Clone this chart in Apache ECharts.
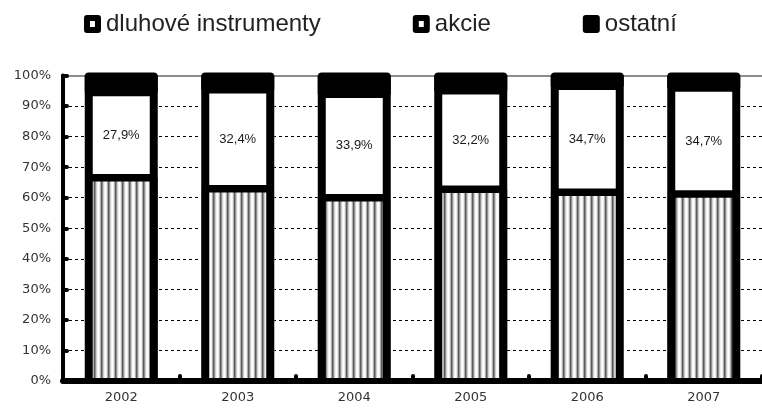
<!DOCTYPE html>
<html>
<head>
<meta charset="utf-8">
<script src="https://cdn.jsdelivr.net/npm/echarts@6/dist/echarts.min.js"></script>
<style>
  html, body { margin: 0; padding: 0; background: #fff; }
  #chart { width: 762px; height: 416px; }
</style>
</head>
<body>
<div id="chart"></div>
<script>
// Years on the category axis
const years = ['2002', '2003', '2004', '2005', '2006', '2007'];
// Share of each asset class, in percent
const dluhoveInstrumenty = [66.5, 62.9, 60.0, 62.8, 61.8, 61.2];
const akcie = [27.9, 32.4, 33.9, 32.2, 34.7, 34.7];
const ostatni = [5.6, 4.7, 6.1, 5.0, 3.5, 4.1];
// Series names shown in the legend
const seriesNames = ['dluhové instrumenty', 'akcie', 'ostatní'];

// Full height of each column, used for its outline
const totals = years.map((_, i) => dluhoveInstrumenty[i] + akcie[i] + ostatni[i]);

// Vertical stripe fill for the debt-instrument segments
function stripeCanvas() {
  const shades = ['#ffffff', '#ececec', '#b0b0b0', '#5a5a5a', '#8e8e8e', '#cfcfcf', '#f4f4f4'];
  const c = document.createElement('canvas');
  c.width = shades.length;
  c.height = 4;
  const ctx = c.getContext('2d');
  shades.forEach((s, i) => { ctx.fillStyle = s; ctx.fillRect(i, 0, 1, 4); });
  return c;
}

const holeIcon = 'path://M3,0H14A3,3,0,0,1,17,3V15A3,3,0,0,1,14,18H3A3,3,0,0,1,0,15V3A3,3,0,0,1,3,0Z M6,6V12H11V6Z';
const solidIcon = 'path://M3,0H14A3,3,0,0,1,17,3V15A3,3,0,0,1,14,18H3A3,3,0,0,1,0,15V3A3,3,0,0,1,3,0Z';

const BAR_W = 73;     // column width in px
const FRAME = 8;      // heavy outline width
const DIVIDER = 7.5;  // line between stacked segments

// Heavy black outline and segment dividers for each column
function renderOutline(params, api) {
  const i = params.dataIndex;
  const base = api.coord([i, 0]);
  const cx = base[0];
  const yBottom = base[1];
  const yDebt = api.coord([i, dluhoveInstrumenty[i]])[1];
  const yShares = api.coord([i, dluhoveInstrumenty[i] + akcie[i]])[1];
  const yTop = api.coord([i, totals[i]])[1];
  const half = BAR_W / 2 - FRAME / 2;
  const top = yTop - 3 + FRAME / 2;
  const line = { stroke: '#000', fill: null, lineWidth: FRAME, lineJoin: 'round' };
  return {
    type: 'group',
    children: [
      {
        type: 'line',
        shape: { x1: cx - half, y1: yDebt, x2: cx + half, y2: yDebt },
        style: { stroke: '#000', lineWidth: DIVIDER }
      },
      {
        type: 'line',
        shape: { x1: cx - half, y1: yShares, x2: cx + half, y2: yShares },
        style: { stroke: '#000', lineWidth: DIVIDER }
      },
      {
        type: 'polyline',
        shape: { points: [[cx - half, yBottom], [cx - half, top], [cx + half, top], [cx + half, yBottom]] },
        style: line
      }
    ]
  };
}

const chart = echarts.init(document.getElementById('chart'), null, { renderer: 'canvas' });
chart.setOption({
  animation: false,
  backgroundColor: '#fff',
  legend: {
    left: 79,
    top: 7,
    itemGap: 92,
    itemWidth: 17,
    itemHeight: 18,
    selectedMode: false,
    textStyle: { fontFamily: 'Liberation Sans', fontSize: 24, color: '#222' },
    data: [
      { name: seriesNames[0], icon: holeIcon, itemStyle: { color: '#000', borderWidth: 0 } },
      { name: seriesNames[1], icon: holeIcon, itemStyle: { color: '#000', borderWidth: 0 } },
      { name: seriesNames[2], icon: solidIcon, itemStyle: { color: '#000', borderWidth: 0 } }
    ]
  },
  grid: { left: 63, top: 75.5, width: 708, height: 305.5, containLabel: false },
  xAxis: [
    {
      type: 'category',
      data: years,
      z: 5,
      axisLine: { lineStyle: { color: '#000', width: 6 } },
      axisTick: { show: true, inside: true, length: 5, lineStyle: { color: '#000', width: 4, cap: 'round' } },
      axisLabel: { margin: 10, fontFamily: 'DejaVu Sans', fontSize: 13, color: '#333' },
      splitLine: { show: false }
    },
    {
      type: 'category',
      position: 'top',
      data: years,
      axisLine: { lineStyle: { color: '#8c8c8c', width: 2 } },
      axisTick: { show: false },
      axisLabel: { show: false }
    }
  ],
  yAxis: {
    type: 'value',
    min: 0,
    max: 100,
    interval: 10,
    axisLine: { show: true, lineStyle: { color: '#000', width: 4 } },
    axisTick: { show: true, inside: true, length: 4, lineStyle: { color: '#000', width: 4, cap: 'round' } },
    axisLabel: {
      margin: 12,
      fontFamily: 'DejaVu Sans',
      fontSize: 13,
      color: '#333',
      formatter: '{value}%'
    },
    splitLine: { show: true, lineStyle: { color: '#000', width: 1, type: [3, 3] } }
  },
  series: [
    {
      name: seriesNames[0],
      type: 'bar',
      stack: 'podil',
      barWidth: BAR_W,
      data: dluhoveInstrumenty,
      itemStyle: { color: { image: stripeCanvas(), repeat: 'repeat' } }
    },
    {
      name: seriesNames[1],
      type: 'bar',
      stack: 'podil',
      barWidth: BAR_W,
      data: akcie,
      itemStyle: { color: '#fff' },
      label: {
        show: true,
        position: 'inside',
        fontFamily: 'Liberation Sans',
        fontSize: 13,
        color: '#1a1a1a',
        formatter: p => p.value.toFixed(1).replace('.', ',') + '%'
      }
    },
    {
      name: seriesNames[2],
      type: 'bar',
      stack: 'podil',
      barWidth: BAR_W,
      data: ostatni,
      itemStyle: { color: '#000' }
    },
    {
      name: 'obrys',
      type: 'custom',
      xAxisIndex: 0,
      silent: true,
      z: 3,
      clip: false,
      data: years.map((_, i) => [i, totals[i]]),
      encode: { x: 0, y: 1 },
      renderItem: renderOutline
    }
  ]
});
</script>
</body>
</html>
